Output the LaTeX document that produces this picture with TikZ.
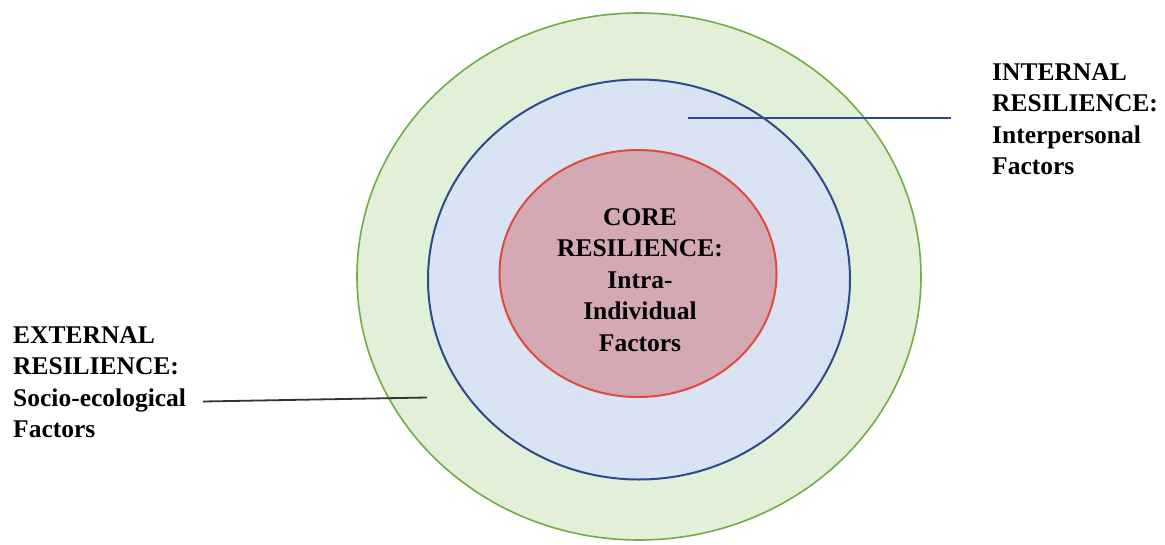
\documentclass[tikz,border=0pt]{standalone}
\usepackage{fontspec}
\setmainfont{Liberation Serif}
\usetikzlibrary{shapes.geometric}
\definecolor{outerfill}{HTML}{E2EFD9}
\definecolor{outerline}{HTML}{70AD47}
\definecolor{midfill}{HTML}{DAE3F3}
\definecolor{midline}{HTML}{2F4A8C}
\definecolor{corefill}{HTML}{D5A9B3}
\definecolor{coreline}{HTML}{E04A3C}
\definecolor{leftline}{HTML}{333333}
\tikzset{
  ring/.style={ellipse, inner sep=0pt, line width=#1},
  lbl/.style={font=\bfseries\fontsize{25.5}{31.5}\selectfont, inner sep=0pt, text=black},
}
\begin{document}
\begin{tikzpicture}[x=1pt,y=-1pt]
\useasboundingbox[fill=white] (0,0) rectangle (1165,544);
\node[ring=1.6pt, draw=outerline, fill=outerfill, minimum width=564pt, minimum height=527pt] (outer) at (639,276.5) {};
\node[ring=2pt, draw=midline, fill=midfill, minimum width=422pt, minimum height=400pt] (mid) at (639,279.5) {};
\node[ring=2pt, draw=coreline, fill=corefill, minimum width=277pt, minimum height=247pt] (core) at (638,273.5) {};
\node[lbl, align=center, anchor=base] (coretxt) at (640,351) {CORE\\RESILIENCE:\\Intra-\\Individual\\Factors};
\node[lbl, align=left, anchor=base west] (internal) at (992,174.5) {INTERNAL\\RESILIENCE:\\Interpersonal\\Factors};
\node[lbl, align=left, anchor=base west] (external) at (13,437.5) {EXTERNAL\\RESILIENCE:\\Socio-ecological\\Factors};
\coordinate (intA) at (688,118);
\coordinate (intB) at (951,118);
\coordinate (extA) at (203,401.5);
\coordinate (extB) at (427,397.5);
\draw[midline, line width=1.8pt] (intA) -- (intB);
\draw[leftline, line width=1.8pt] (extA) -- (extB);
\end{tikzpicture}
\end{document}
